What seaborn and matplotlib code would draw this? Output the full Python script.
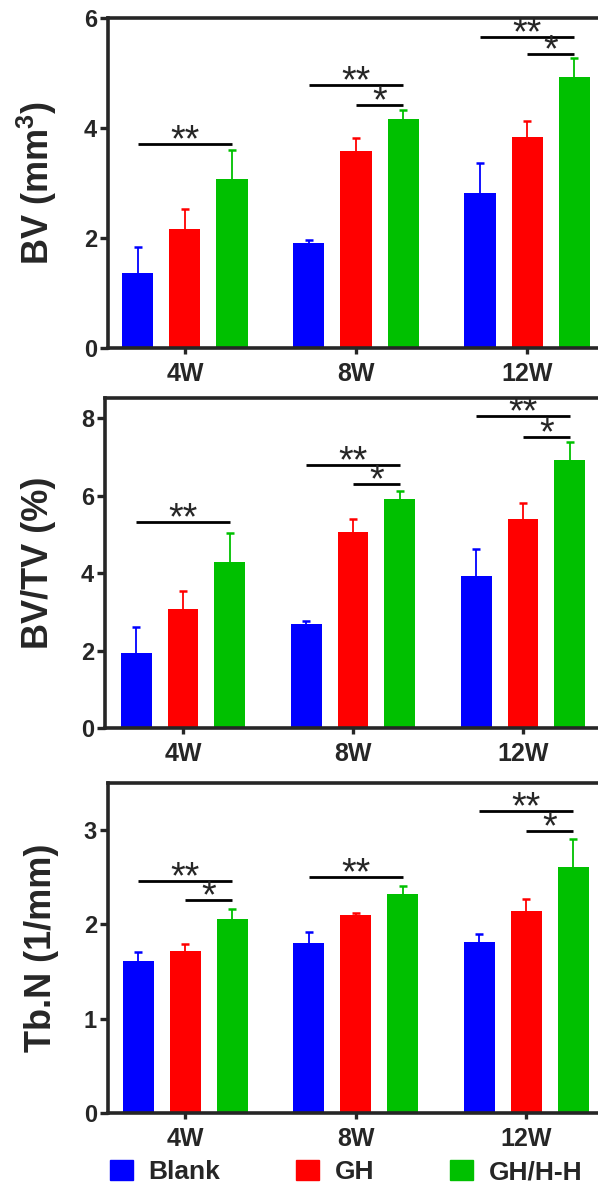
import pandas as pd
import seaborn as sns
import matplotlib.pyplot as plt
from matplotlib.patches import Patch
from matplotlib.transforms import offset_copy

# categories
weeks = ['4W', '8W', '12W']
groups = ['Blank', 'GH', 'GH/H-H']
colors = ['#0000FF', '#FF0000', '#00C000']

# BV (mm^3): mean and SD per group, one value per week
bv_blank = [1.36, 1.91, 2.82]
bv_gh = [2.16, 3.58, 3.84]
bv_ghhh = [3.07, 4.16, 4.93]
bv_blank_sd = [0.48, 0.05, 0.54]
bv_gh_sd = [0.37, 0.24, 0.29]
bv_ghhh_sd = [0.53, 0.17, 0.34]

# BV/TV (%)
bvtv_blank = [1.94, 2.68, 3.92]
bvtv_gh = [3.07, 5.06, 5.39]
bvtv_ghhh = [4.28, 5.91, 6.92]
bvtv_blank_sd = [0.67, 0.08, 0.70]
bvtv_gh_sd = [0.47, 0.33, 0.42]
bvtv_ghhh_sd = [0.75, 0.21, 0.46]

# Tb.N (1/mm)
tbn_blank = [1.61, 1.80, 1.81]
tbn_gh = [1.72, 2.10, 2.14]
tbn_ghhh = [2.06, 2.32, 2.61]
tbn_blank_sd = [0.10, 0.12, 0.09]
tbn_gh_sd = [0.07, 0.02, 0.13]
tbn_ghhh_sd = [0.10, 0.09, 0.30]

# significance bars: (week index, start group index, height, label), all end at GH/H-H
bv_sig = [(0, 0, 3.71, '**'), (1, 0, 4.78, '**'), (1, 1, 4.42, '*'),
          (2, 0, 5.65, '**'), (2, 1, 5.34, '*')]
bvtv_sig = [(0, 0, 5.32, '**'), (1, 0, 6.79, '**'), (1, 1, 6.30, '*'),
            (2, 0, 8.05, '**'), (2, 1, 7.51, '*')]
tbn_sig = [(0, 0, 2.46, '**'), (0, 1, 2.26, '*'), (1, 0, 2.50, '**'),
           (2, 0, 3.20, '**'), (2, 1, 2.99, '*')]

sns.set_style('ticks')
plt.rcParams['font.family'] = ['Liberation Sans', 'DejaVu Sans']
plt.rcParams['font.weight'] = 'bold'
plt.rcParams['mathtext.fontset'] = 'custom'
plt.rcParams['mathtext.rm'] = 'Liberation Sans:bold'
plt.rcParams['mathtext.it'] = 'Liberation Sans:bold'
plt.rcParams['mathtext.bf'] = 'Liberation Sans:bold'


def make_df(means, sds):
    rows = []
    for g, m, s in zip(groups, means, sds):
        for w, v, e in zip(weeks, m, s):
            rows.append({'week': w, 'group': g, 'value': v, 'sd': e})
    return pd.DataFrame(rows)


def panel(fig, rect, xlim, df, ylabel, ymax, yticks, sig):
    ax = fig.add_axes(rect)
    sns.barplot(data=df, x='week', y='value', hue='group', order=weeks,
                hue_order=groups, palette=colors, saturation=1,
                width=0.825, gap=0.34, errorbar=None, legend=False,
                linewidth=0, ax=ax)
    # error bars (drawn under the bars so only the upper half shows)
    centers = {}
    for gi, (cont, color) in enumerate(zip(ax.containers, colors)):
        xs = [b.get_x() + b.get_width() / 2 for b in cont]
        ys = [b.get_height() for b in cont]
        sd = df[df['group'] == groups[gi]].set_index('week').loc[weeks, 'sd']
        ax.errorbar(xs, ys, yerr=sd.values, fmt='none', ecolor=color,
                    elinewidth=1.3, capsize=3.2, capthick=1.8, zorder=0.5)
        for wi, x in enumerate(xs):
            centers[(wi, gi)] = x
    # significance lines
    star_tr = offset_copy(ax.transData, fig=fig, x=0, y=-5, units='points')
    for wi, gi, y, lab in sig:
        x1 = centers[(wi, gi)]
        x2 = centers[(wi, 2)]
        ax.plot([x1, x2], [y, y], color='black', lw=2.0, solid_capstyle='butt')
        ax.text((x1 + x2) / 2, y, lab, ha='center', va='baseline',
                fontsize=27, fontweight='normal', transform=star_tr)
    ax.set_xlim(*xlim)
    ax.set_ylim(0, ymax)
    ax.set_yticks(yticks)
    ax.set_xlabel('')
    ax.set_ylabel(ylabel, fontsize=26, fontweight='bold')
    ax.yaxis.set_label_coords(-0.10, 0.5)
    ax.spines['right'].set_visible(False)
    for s in ['left', 'bottom', 'top']:
        ax.spines[s].set_linewidth(2.6)
    ax.tick_params(axis='y', length=6, width=2.4, pad=2, labelsize=17)
    ax.tick_params(axis='x', length=4, width=2.4, pad=6, labelsize=18)
    for t in ax.get_xticklabels() + ax.get_yticklabels():
        t.set_fontweight('bold')
    return ax


fig = plt.figure(figsize=(5.98, 11.85), dpi=100)
H = 1185.0
W = 598.0

panel(fig, [108 / W, 1 - 348 / H, 1 - 108 / W, 330 / H], (-0.45, 2.415),
      make_df([bv_blank, bv_gh, bv_ghhh], [bv_blank_sd, bv_gh_sd, bv_ghhh_sd]),
      'BV (mm$^{3}$)', 6, [0, 2, 4, 6], bv_sig)
panel(fig, [105 / W, 1 - 728 / H, 1 - 105 / W, 330 / H], (-0.459, 2.441),
      make_df([bvtv_blank, bvtv_gh, bvtv_ghhh],
              [bvtv_blank_sd, bvtv_gh_sd, bvtv_ghhh_sd]),
      'BV/TV (%)', 8.52, [0, 2, 4, 6, 8], bvtv_sig)
panel(fig, [108 / W, 1 - 1113 / H, 1 - 108 / W, 330 / H], (-0.452, 2.42),
      make_df([tbn_blank, tbn_gh, tbn_ghhh],
              [tbn_blank_sd, tbn_gh_sd, tbn_ghhh_sd]),
      'Tb.N (1/mm)', 3.5, [0, 1, 2, 3], tbn_sig)

handles = [Patch(facecolor=c, edgecolor=c) for c in colors]
fig.legend(handles, groups, loc='upper left', bbox_to_anchor=(110 / W, 1 - 1160 / H),
           ncol=3, frameon=False, borderpad=0, borderaxespad=0,
           handlelength=0.87, handleheight=0.8, handletextpad=0.57,
           columnspacing=2.9, prop={'size': 19, 'weight': 'bold'})

fig.savefig('out.png', dpi=100)
